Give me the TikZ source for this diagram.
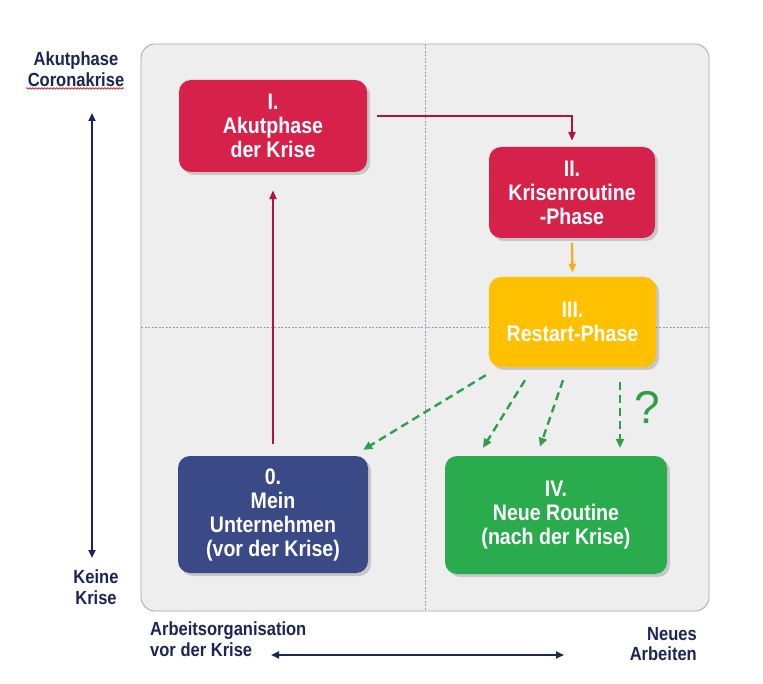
\documentclass[tikz,border=0pt]{standalone}
\usepackage{fontspec}
\setmainfont{Liberation Sans}[FakeStretch=0.87]
\newfontfamily\qmfont{Liberation Sans}
\usetikzlibrary{arrows.meta,shadows,decorations.pathmorphing}
\definecolor{panelgray}{HTML}{EEEEEF}
\definecolor{panelborder}{HTML}{A8A8AC}
\definecolor{boxred}{HTML}{D6214A}
\definecolor{linered}{HTML}{B3123F}
\definecolor{boxyellow}{HTML}{FFC000}
\definecolor{lineyellow}{HTML}{F2B01E}
\definecolor{boxnavy}{HTML}{3A4A86}
\definecolor{boxgreen}{HTML}{2AAB4E}
\definecolor{linegreen}{HTML}{2E9E48}
\definecolor{axisnavy}{HTML}{1C2558}
\definecolor{divgray}{HTML}{9A9AA8}
\tikzset{
  phase/.style={rounded corners=12pt, inner sep=0pt, align=center, text=white,
    font=\fontsize{22.5}{24}\selectfont\bfseries,
    drop shadow={opacity=0.35, shadow xshift=3pt, shadow yshift=-3pt}},
  axislabel/.style={text=axisnavy, font=\fontsize{19}{20.5}\selectfont\bfseries, inner sep=0pt},
  axisarrow/.style={draw=axisnavy, line width=2.2pt, {Triangle[length=8pt,width=7pt]}-{Triangle[length=8pt,width=7pt]}},
  redline/.style={draw=linered, line width=2.4pt, -{Triangle[length=9pt,width=7pt]}},
  yellowline/.style={draw=lineyellow, line width=2.4pt, -{Triangle[length=9pt,width=7pt]}},
  greendash/.style={draw=linegreen, line width=2.4pt, dash pattern=on 8pt off 5pt, -{Triangle[length=9pt,width=8pt]}},
  divider/.style={draw=divgray, line width=0.5pt, dash pattern=on 2pt off 1.5pt}
}
\begin{document}
\begin{tikzpicture}[x=1pt,y=-1pt]
\useasboundingbox[fill=white] (0,0) rectangle (763,684);
% panel
\draw[panelborder, fill=panelgray, line width=0.8pt, rounded corners=14pt] (141,44) rectangle (709,611);
\draw[divider] (425,44) -- (425,611);
\draw[divider] (141,327) -- (709,327);
% boxes
\node[phase, fill=boxred, minimum width=188pt, minimum height=92pt] (nI) at (273,126) {I.\\Akutphase\\der Krise};
\node[phase, fill=boxred, minimum width=166pt, minimum height=91pt] (nII) at (572,192.5) {II.\\Krisenroutine\\-Phase};
\node[phase, fill=boxyellow, minimum width=167pt, minimum height=90pt] (nIII) at (572.5,322) {III.\\Restart-Phase};
\node[phase, fill=boxnavy, minimum width=190pt, minimum height=117pt] (n0) at (273,514.5) {0.\\Mein\\Unternehmen\\(vor der Krise)};
\node[phase, fill=boxgreen, minimum width=222pt, minimum height=118pt] (nIV) at (556,515) {IV.\\Neue Routine\\(nach der Krise)};
% connectors
\draw[redline] ([shift={(10pt,10pt)}]nI.east) -| ([yshift=6pt]nII.north);
\draw[redline] ([yshift=12pt]n0.north) -- ([yshift=-18pt]nI.south);
\draw[yellowline] ([yshift=-5pt]nII.south) -- ([yshift=4pt]nIII.north);
\draw[greendash] ([shift={(-3pt,-8pt)}]nIII.south west) -- ([shift={(-5pt,6pt)}]n0.north east);
\draw[greendash] ([shift={(-47.5pt,-13pt)}]nIII.south) -- ([shift={(-73pt,8pt)}]nIV.north);
\draw[greendash] ([shift={(-9.5pt,-13pt)}]nIII.south) -- ([shift={(-16pt,9pt)}]nIV.north);
\draw[greendash] ([shift={(47.5pt,-15pt)}]nIII.south) -- ([shift={(64pt,8pt)}]nIV.north);
\node[text=linegreen, font=\qmfont\fontsize{46}{46}\selectfont, inner sep=0pt] (qm) at (647,407) {?};
% vertical axis
\node[axislabel, align=center] (top) at (76,69) {Akutphase\\Coronakrise};
\draw[red!80!black, line width=0.6pt, decorate, decoration={snake, amplitude=0.8pt, segment length=3pt}] ([shift={(-50pt,-2pt)}]top.south) -- ([shift={(48pt,-2pt)}]top.south);
\node[axislabel, align=center] (bot) at (96,587) {Keine\\Krise};
\coordinate (vtop) at (92,113);
\coordinate (vbot) at (92,558);
\draw[axisarrow] (vtop) -- (vbot);
% horizontal axis
\node[axislabel, align=left, anchor=north west] (left) at (150,622) {Arbeitsorganisation\\vor der Krise};
\node[axislabel, align=right, anchor=north east] (right) at (697,627) {Neues\\Arbeiten};
\coordinate (hl) at (271,655);
\coordinate (hr) at (564,655);
\draw[axisarrow] (hl) -- (hr);
\end{tikzpicture}
\end{document}
